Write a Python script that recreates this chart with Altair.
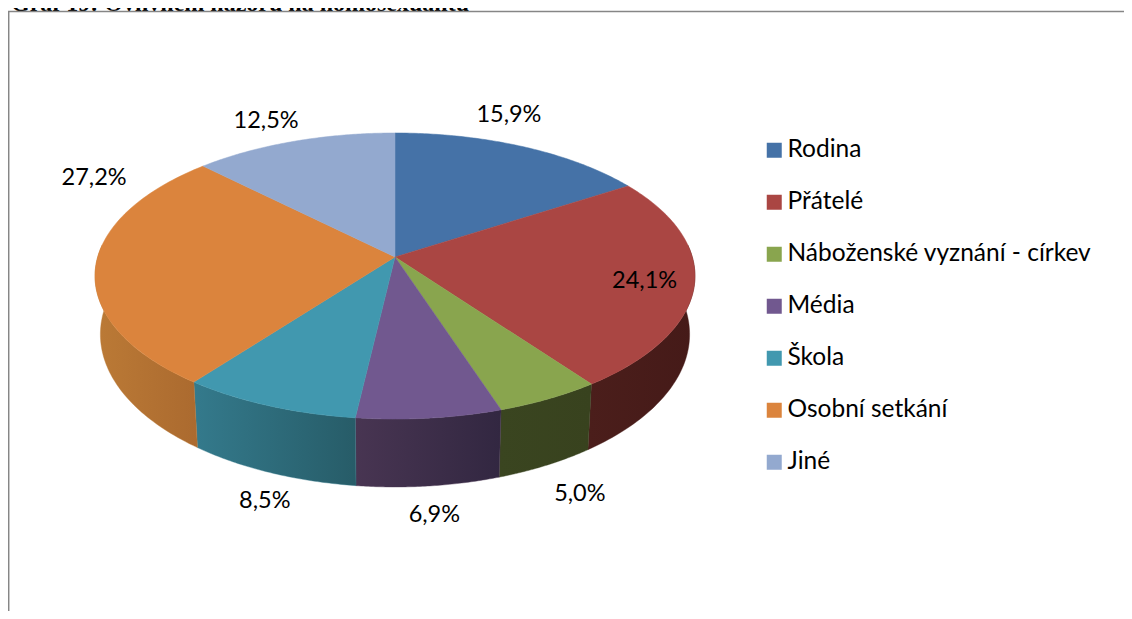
import altair as alt
import numpy as np
import pandas as pd

categories = ["Rodina", "Přátelé", "Náboženské vyznání - církev", "Média", "Škola", "Osobní setkání", "Jiné"]
shares = [15.9, 24.1, 5.0, 6.9, 8.5, 27.2, 12.5]
label_texts = ["15,9%", "24,1%", "5,0%", "6,9%", "8,5%", "27,2%", "12,5%"]
top_colors = ["#4572A7", "#AA4643", "#89A54E", "#71588F", "#4198AF", "#DB843D", "#93A9CF"]
wall_left = [None, "#4b1e1b", "#3a4520", "#483552", "#347a8c", "#bb7a36", None]
wall_right = [None, "#451a18", "#38421e", "#322741", "#275c68", "#ab6a2f", None]
label_offsets = [(-13.5, -31.5), (-50, -2), (31, 95), (5, 97), (-3.5, 95.5), (-1.6, -88.4), (-27.7, -20.4)]
chart_title = "Graf 19: Ovlivnění názorů na homosexualitu"

# Perspective view of the pie disc
K = 0.1329


def top_xy(deg, r=1.0):
    a = np.radians(deg)
    w = 1 + K * r * np.cos(a)
    return 395 + 297.3 * r * np.sin(a) / w, 257 - 140.5 * r * np.cos(a) / w


def bottom_xy(deg):
    a = np.radians(deg)
    w = 1 + K * np.cos(a)
    return 395 + 292 * np.sin(a) / w, 314 - 150 * np.cos(a) / w


edges = np.concatenate([[0], np.cumsum(shares)]) * 3.6 * 100 / sum(shares)

XS = alt.Scale(domain=[8, 1124], range=[0, 1116], nice=False, zero=False)
YS = alt.Scale(domain=[8, 611], range=[0, 603], nice=False, zero=False)


def xenc():
    return alt.X("x:Q", scale=XS, axis=None)


def yenc():
    return alt.Y("y:Q", scale=YS, axis=None)


layers = []

# legend carrier
legend_df = pd.DataFrame({"name": categories, "x": [395] * 7, "y": [257] * 7})
layers.append(
    alt.Chart(legend_df).mark_square(size=1, opacity=1).encode(
        x=xenc(), y=yenc(),
        fill=alt.Fill("name:N", scale=alt.Scale(domain=categories, range=top_colors),
                      legend=alt.Legend(orient="none", legendX=754, legendY=130, title=None,
                                        symbolType="square", symbolSize=225, symbolStrokeWidth=0,
                                        labelFont="Lato", labelFontSize=24.5, labelColor="#000000",
                                        labelOffset=1, rowPadding=27, labelLimit=400,
                                        symbolOpacity=1, values=categories)),
    )
)

# walls
for i in range(7):
    a1, a2 = max(edges[i], 85), min(edges[i + 1], 275)
    if wall_left[i] is None or a2 <= a1:
        continue
    angs = np.linspace(a1, a2, 60)
    tx, ty = top_xy(angs)
    bx, by = bottom_xy(angs[::-1])
    df = pd.DataFrame({"x": np.r_[tx, bx], "y": np.r_[ty, by]})
    df["o"] = range(len(df))
    left, right = wall_left[i], wall_right[i]
    layers.append(
        alt.Chart(df).mark_line(
            interpolate="linear-closed", strokeWidth=0.4,
            stroke=left,
            fill=alt.Gradient(gradient="linear", x1=0, x2=1, y1=0, y2=0,
                              stops=[alt.GradientStop(color=left, offset=0),
                                     alt.GradientStop(color=right, offset=1)]),
        ).encode(x=xenc(), y=yenc(), order="o:Q")
    )

# top faces
for i in range(7):
    angs = np.linspace(edges[i], edges[i + 1], 90)
    tx, ty = top_xy(angs)
    cx, cy = top_xy(0, 0)
    df = pd.DataFrame({"x": np.r_[cx, tx], "y": np.r_[cy, ty]})
    df["o"] = range(len(df))
    layers.append(
        alt.Chart(df).mark_line(
            interpolate="linear-closed", strokeWidth=0.5,
            stroke=top_colors[i], fill=top_colors[i],
        ).encode(x=xenc(), y=yenc(), order="o:Q")
    )

# value labels, anchored on the rim at each slice's middle angle
mids = (edges[:-1] + edges[1:]) / 2
rx, ry = top_xy(mids)
label_df = pd.DataFrame({
    "label": label_texts,
    "x": rx + np.array([o[0] for o in label_offsets]),
    "y": ry + np.array([o[1] for o in label_offsets]),
})
layers.append(
    alt.Chart(label_df).mark_text(font="Lato", fontSize=23.5, color="#000000", align="center", baseline="middle")
    .encode(x=xenc(), y=yenc(), text="label:N")
)

# heading, cut by the top edge as in the source
layers.append(
    alt.Chart(pd.DataFrame({"x": [11], "y": [10.5], "t": [chart_title]})).mark_text(
        font="Liberation Serif", fontSize=24, fontWeight="bold", color="#000000",
        align="left", baseline="alphabetic"
    ).encode(x=xenc(), y=yenc(), text="t:N")
)

# chart frame
layers.append(
    alt.Chart(pd.DataFrame({"x": [8], "x2": [1124], "y": [11.5]})).mark_rule(color="#868686", strokeWidth=1.5)
    .encode(x=xenc(), x2="x2:Q", y=yenc())
)
layers.append(
    alt.Chart(pd.DataFrame({"x": [8.7], "y": [11], "y2": [611]})).mark_rule(color="#868686", strokeWidth=1.5)
    .encode(x=xenc(), y=yenc(), y2="y2:Q")
)

chart = alt.layer(*layers).properties(
    width=1116, height=603, padding=0,
    autosize=alt.AutoSizeParams(type="none"),
    background="#ffffff",
).configure_view(stroke=None)

chart.save("out.html", embed_options={"renderer": "svg", "actions": False})
